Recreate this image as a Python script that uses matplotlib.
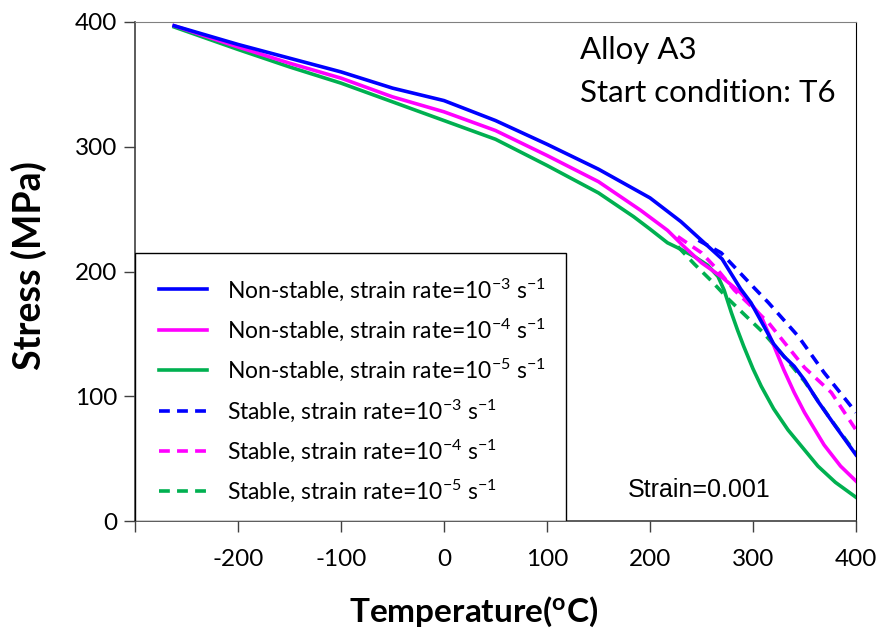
import numpy as np
import matplotlib
matplotlib.use("Agg")
import matplotlib.pyplot as plt
from matplotlib.patches import Rectangle

plt.rcParams['font.family'] = ['Lato', 'DejaVu Sans']
plt.rcParams['mathtext.fontset'] = 'custom'
plt.rcParams['mathtext.rm'] = 'Lato'
plt.rcParams['mathtext.it'] = 'Lato:italic'
plt.rcParams['mathtext.bf'] = 'Lato:bold'
plt.rcParams['mathtext.default'] = 'regular'

# non-stable curves
t_ns3 = [-262, -200, -150, -100, -50, 0, 50, 100, 150, 200, 230, 250, 270, 288, 298, 310, 320, 330, 340, 350, 363, 380, 400]
s_ns3 = [397, 382, 371, 360, 347, 337, 321, 302, 282, 259, 240, 225, 210, 186, 175, 157, 142, 132, 124, 113, 96, 76, 53]

t_ns4 = [-262, -200, -150, -100, -50, 0, 50, 100, 150, 191, 217, 233, 250, 269, 288, 300, 308, 320, 330, 340, 350, 369, 385, 400]
s_ns4 = [397, 380, 367, 355, 340, 328, 313, 293, 272, 249, 233, 220, 207, 196, 183, 172, 164, 141, 121, 103, 87, 61, 44, 32]

t_ns5 = [-262, -200, -150, -100, -50, 0, 50, 100, 150, 184, 200, 217, 227, 243, 256, 266, 272, 279, 285, 291, 300, 308, 320, 334, 350, 363, 380, 400]
s_ns5 = [396, 378, 364, 351, 336, 321, 306, 285, 263, 244, 234, 223, 219, 212, 205, 196, 185, 167, 153, 140, 122, 108, 90, 73, 57, 44, 31, 19]

# stable curves
t_s3 = [247, 269, 285, 301, 315, 344, 369, 400]
s_s3 = [225, 215, 201, 187, 175, 148, 119, 87]

t_s4 = [227, 250, 266, 282, 315, 350, 376, 400]
s_s4 = [228, 215, 201, 185, 159, 123, 103, 73]

t_s5 = [227, 243, 259, 276, 291, 310, 330, 350, 375, 400]
s_s5 = [220, 206, 193, 178, 166, 151, 132, 112, 82, 54]

blue = '#0000FF'
pink = '#FF00FF'
green = '#00B050'

fig = plt.figure(figsize=(8.79, 6.39), dpi=100)
ax = fig.add_axes([135/879, 1-521/639, 721/879, 499/639])

lw = 2.6
dash = (3, 2)
ax.plot(t_s5, s_s5, color=green, lw=lw, dashes=dash, label='Stable, strain rate=10$^{-5}$ s$^{-1}$', zorder=2)
ax.plot(t_s4, s_s4, color=pink, lw=lw, dashes=dash, label='Stable, strain rate=10$^{-4}$ s$^{-1}$', zorder=2)
ax.plot(t_s3, s_s3, color=blue, lw=lw, dashes=dash, label='Stable, strain rate=10$^{-3}$ s$^{-1}$', zorder=2)
ax.plot(t_ns5, s_ns5, color=green, lw=lw, label='Non-stable, strain rate=10$^{-5}$ s$^{-1}$', zorder=3)
ax.plot(t_ns4, s_ns4, color=pink, lw=lw, label='Non-stable, strain rate=10$^{-4}$ s$^{-1}$', zorder=3)
ax.plot(t_ns3, s_ns3, color=blue, lw=lw, label='Non-stable, strain rate=10$^{-3}$ s$^{-1}$', zorder=4)

ax.set_xlim(-300, 400)
ax.set_ylim(0, 400)
ax.set_xticks(np.arange(-300, 401, 100))
ax.set_xticklabels([''] + [str(v) for v in range(-200, 401, 100)])
ax.set_yticks(np.arange(0, 401, 100))
ax.tick_params(axis='both', direction='out', length=8, width=1, labelsize=17.5, color='#404040')
ax.tick_params(axis='x', pad=12)
ax.tick_params(axis='y', pad=5)

for side in ['left', 'bottom']:
    ax.spines[side].set_color('#404040')
    ax.spines[side].set_linewidth(1.2)
ax.spines['top'].set_color('#808080')
ax.spines['right'].set_color('#000000')

ax.set_xlabel('Temperature($\\mathbf{^{o}}$C)', fontsize=24, fontweight='bold')
ax.xaxis.set_label_coords((474 - 135) / 721, -(612 - 521) / 499)
ax.xaxis.label.set_va('center')
ax.set_ylabel('Stress (MPa)', fontsize=27, fontweight='bold')
ax.yaxis.set_label_coords(-(135 - 29) / 721, (521 - 266) / 499)
ax.yaxis.label.set_va('center')

ax.text((580 - 135) / 721, (521 - 50) / 499, 'Alloy A3', transform=ax.transAxes,
        fontsize=22.5, va='center', ha='left')
ax.text((580 - 135) / 721, (521 - 93) / 499, 'Start condition: T6', transform=ax.transAxes,
        fontsize=22.5, va='center', ha='left')
ax.text((628 - 135) / 721, (521 - 490) / 499, 'Strain=0.001', transform=ax.transAxes, fontsize=18,
        family='Liberation Sans', va='center', ha='left')

# legend box
ax.add_patch(Rectangle((0, 0), 431/721, 268/499, transform=ax.transAxes,
                       facecolor='white', edgecolor='black', lw=1, zorder=5))
handles, labels = ax.get_legend_handles_labels()
order = [5, 4, 3, 2, 1, 0]
leg = ax.legend([handles[i] for i in order], [labels[i] for i in order],
                loc='upper left', bbox_to_anchor=(24/721, 1 - 254/499),
                frameon=False, fontsize=16.5, handlelength=2.1, handletextpad=0.85,
                labelspacing=0.6, borderpad=0, borderaxespad=0)
leg.set_zorder(6)

fig.savefig('out.png', dpi=100)
